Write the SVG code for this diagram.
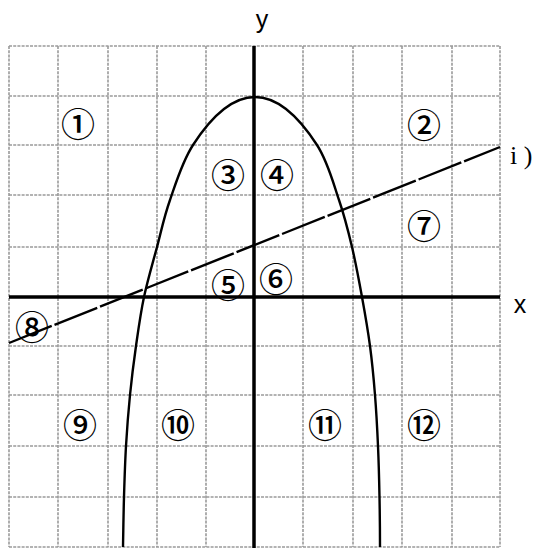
<svg xmlns="http://www.w3.org/2000/svg" width="540" height="551" viewBox="0 0 540 551">
<style>
.grid line{stroke:#9a9a9a;stroke-width:1.6;stroke-dasharray:3 1.2}
.axis{stroke:#000;stroke-width:3.5}
.curve{fill:none;stroke:#000;stroke-width:2.4}
.ln{stroke:#000;stroke-width:2.4;stroke-dasharray:46 3}
.num{font-family:"Noto Sans CJK JP","Noto Sans",sans-serif;font-size:34px;font-weight:500;text-anchor:middle;dominant-baseline:central;fill:#000}
.lab{font-family:"Liberation Sans","DejaVu Sans",sans-serif;font-size:25px;fill:#000}
.ser{font-family:"Liberation Serif",serif;font-size:26px;fill:#000}
</style>
<rect width="540" height="551" fill="#fff"/>
<g id="grid" class="grid">
<line x1="9" y1="46" x2="9" y2="547"/>
<line x1="58" y1="46" x2="58" y2="547"/>
<line x1="108" y1="46" x2="108" y2="547"/>
<line x1="157" y1="46" x2="157" y2="547"/>
<line x1="206" y1="46" x2="206" y2="547"/>
<line x1="303" y1="46" x2="303" y2="547"/>
<line x1="353" y1="46" x2="353" y2="547"/>
<line x1="402" y1="46" x2="402" y2="547"/>
<line x1="452" y1="46" x2="452" y2="547"/>
<line x1="500" y1="46" x2="500" y2="547"/>
<line x1="9" y1="46" x2="500" y2="46"/>
<line x1="9" y1="96" x2="500" y2="96"/>
<line x1="9" y1="145" x2="500" y2="145"/>
<line x1="9" y1="195" x2="500" y2="195"/>
<line x1="9" y1="247" x2="500" y2="247"/>
<line x1="9" y1="346" x2="500" y2="346"/>
<line x1="9" y1="395" x2="500" y2="395"/>
<line x1="9" y1="446" x2="500" y2="446"/>
<line x1="9" y1="497" x2="500" y2="497"/>
<line x1="9" y1="547" x2="500" y2="547"/>
</g>
<g id="connectors">
<line class="axis" x1="9" y1="297" x2="500" y2="297"/>
<line class="axis" x1="254" y1="46" x2="254" y2="548"/>
<path class="curve" d="M123,547 C123.33,530.3 123.5,513.8 124,497 C124.5,480.2 125,463 126,446 C127,429 128.33,411.7 130,395 C131.67,378.3 133.67,362.3 136,346 C138.33,329.7 140.5,313.5 144,297 C147.5,280.5 152.67,263.2 157,247 C161.33,230.8 164,217 170,200 C176,183 182,162 193,145 Q255,49 317,145 C328,162 333.17,183 339,200 C344.83,217 348.17,230.8 352,247 C355.83,263.2 359,280.5 362,297 C365,313.5 367.83,329.7 370,346 C372.17,362.3 373.67,378.3 375,395 C376.33,411.7 377.25,429 378,446 C378.75,463 379.17,480.2 379.5,497 C379.83,513.8 380,530.3 380,547"/>
<line class="ln" x1="9" y1="343" x2="500" y2="147"/>
</g>
<g id="labels">
<text class="lab" x="262" y="28" text-anchor="middle">y</text>
<text class="lab" x="520" y="313" text-anchor="middle">x</text>
<text class="ser" x="510" y="164">i )</text>
</g>
<g id="n1"><text class="num" x="78" y="122">①</text></g>
<g id="n2"><text class="num" x="424" y="123">②</text></g>
<g id="n3"><text class="num" x="228" y="173">③</text></g>
<g id="n4"><text class="num" x="277" y="173">④</text></g>
<g id="n5"><text class="num" x="228" y="283">⑤</text></g>
<g id="n6"><text class="num" x="276" y="277">⑥</text></g>
<g id="n7"><text class="num" x="424" y="224">⑦</text></g>
<g id="n8"><text class="num" x="32" y="325">⑧</text></g>
<g id="n9"><text class="num" x="80" y="423">⑨</text></g>
<g id="n10"><text class="num" x="178" y="423">⑩</text></g>
<g id="n11"><text class="num" x="325" y="423">⑪</text></g>
<g id="n12"><text class="num" x="424" y="423">⑫</text></g>
</svg>
